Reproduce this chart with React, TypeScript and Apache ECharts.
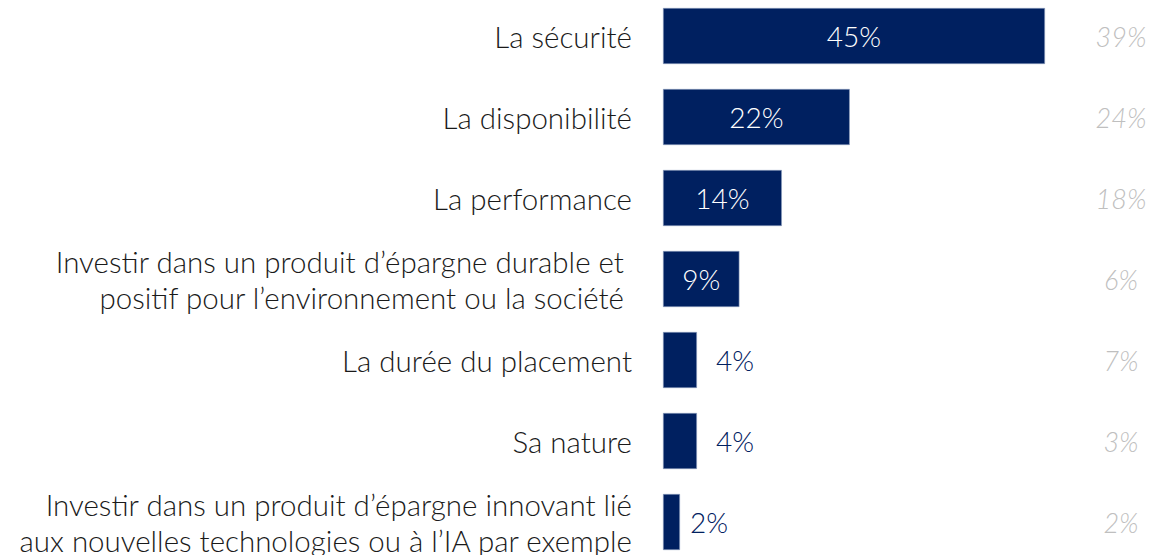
import React, { useEffect, useRef } from "react";
import * as echarts from "echarts";

const categories = [
  "La sécurité",
  "La disponibilité",
  "La performance",
  "Investir dans un produit d’épargne durable et \npositif pour l’environnement ou la société ",
  "La durée du placement",
  "Sa nature",
  "Investir dans un produit d’épargne innovant lié\naux nouvelles technologies ou à l’IA par exemple",
];
const values = [45, 22, 14, 9, 4, 4, 2];
const previousValues = [39, 24, 18, 6, 7, 3, 2];

const FONT = "Lato, 'Open Sans', sans-serif";

export default function App() {
  const ref = useRef<HTMLDivElement>(null);
  useEffect(() => {
    if (!ref.current) return;
    const chart = echarts.init(ref.current, undefined, { renderer: "svg" });
    chart.setOption({
      animation: false,
      grid: { left: 663, width: 382, top: 5.5, height: 567, containLabel: false },
      xAxis: { type: "value", min: 0, max: 45, show: false },
      yAxis: [
        {
          type: "category",
          data: categories,
          inverse: true,
          axisLine: { show: false },
          axisTick: { show: false },
          axisLabel: {
            margin: 31,
            fontFamily: FONT,
            fontWeight: 300,
            fontSize: 29.5,
            lineHeight: 36,
            color: "#1a1a1a",
            align: "right",
          },
        },
        {
          type: "category",
          data: previousValues.map((v) => v + "%"),
          inverse: true,
          position: "right",
          axisLine: { show: false },
          axisTick: { show: false },
          axisLabel: {
            margin: 76,
            align: "center",
            fontFamily: FONT,
            fontStyle: "italic",
            fontWeight: 300,
            fontSize: 27,
            color: "#bfbfbf",
          },
        },
      ],
      series: [
        {
          type: "bar",
          yAxisIndex: 0,
          barWidth: 56,
          data: values.map((v, i) => ({
            value: v,
            label:
              v >= 9
                ? { position: "inside", color: "#ffffff" }
                : { position: "right", distance: i === 6 ? 10 : 19, color: "#002060" },
          })),
          itemStyle: { color: "#002060", borderColor: "#8fa0c0", borderWidth: 0.6 },
          label: {
            show: true,
            formatter: (p: any) => p.value + "%",
            fontFamily: FONT,
            fontWeight: 300,
            fontSize: 28,
          },
        },
      ],
    });
    return () => chart.dispose();
  }, []);
  return (
    <div
      ref={ref}
      style={{ position: "fixed", left: 0, top: -10, width: 1153, height: 575, background: "#fff" }}
    />
  );
}
